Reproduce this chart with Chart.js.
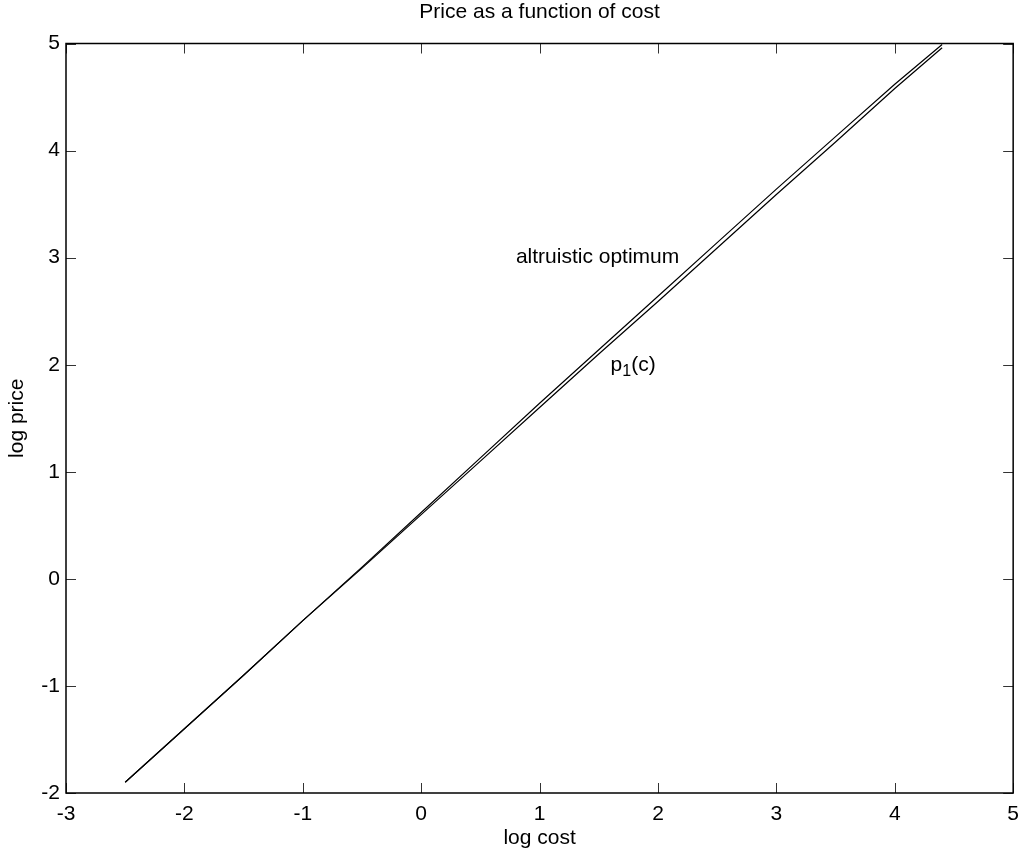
<!DOCTYPE html>
<html>
<head>
<meta charset="utf-8">
<title>Price as a function of cost</title>
<script src="https://cdn.jsdelivr.net/npm/chart.js@4"></script>
<style>
  body { margin: 0; background: #fff; }
  canvas { display: block; }
</style>
</head>
<body>
<canvas id="chart" width="1028" height="857"></canvas>
<script>
const logCost = [-2.5, -2, -1.5, -1, -0.5, 0, 0.5, 1, 1.5, 2, 2.5, 3, 3.5, 4, 4.4];
const altruisticOptimum = [-1.90, -1.40, -0.90, -0.39, 0.11, 0.62, 1.13, 1.64, 2.14, 2.64, 3.14, 3.64, 4.13, 4.62, 4.99];
const p1 = [-1.90, -1.40, -0.90, -0.39, 0.10, 0.60, 1.10, 1.60, 2.10, 2.59, 3.09, 3.59, 4.08, 4.58, 4.96];

const xTicks = [-3, -2, -1, 0, 1, 2, 3, 4, 5];
const yTicks = [-2, -1, 0, 1, 2, 3, 4, 5];

const chartTitle = 'Price as a function of cost';

// text annotations, anchored in data coordinates (left / middle)
const noteText = ['altruistic optimum', 'p'];
const noteSub = ['', '1'];
const noteTail = ['', '(c)'];
const noteX = [0.8, 1.6];
const noteY = [3.0, 2.0];

const FONT = '"Liberation Sans", Arial, Helvetica, sans-serif';
const FS = 21;

function toPoints(ys) {
  return logCost.map((x, i) => ({ x: x, y: ys[i] }));
}

// box round the plot, ticks pointing inward on all four sides, title and text labels
const matlabAxes = {
  id: 'matlabAxes',
  afterDraw(chart) {
    const ctx = chart.ctx;
    const a = chart.chartArea;
    const xs = chart.scales.x;
    const ys = chart.scales.y;
    const tl = 10;

    ctx.save();
    ctx.strokeStyle = '#333';
    ctx.lineWidth = 1;
    ctx.beginPath();
    xTicks.forEach(v => {
      const px = Math.round(xs.getPixelForValue(v)) + 0.5;
      ctx.moveTo(px, a.bottom); ctx.lineTo(px, a.bottom - tl);
      ctx.moveTo(px, a.top); ctx.lineTo(px, a.top + tl);
    });
    yTicks.forEach(v => {
      const py = Math.round(ys.getPixelForValue(v)) + 0.5;
      ctx.moveTo(a.left, py); ctx.lineTo(a.left + tl, py);
      ctx.moveTo(a.right, py); ctx.lineTo(a.right - tl, py);
    });
    ctx.stroke();

    ctx.strokeStyle = '#000';
    ctx.lineWidth = 1.5;
    ctx.strokeRect(a.left, a.top, a.right - a.left, a.bottom - a.top);

    ctx.fillStyle = '#000';
    ctx.textBaseline = 'middle';
    ctx.textAlign = 'center';
    ctx.font = FS + 'px ' + FONT;
    ctx.fillText(chartTitle, (a.left + a.right) / 2, 12);

    ctx.textAlign = 'left';
    for (let i = 0; i < noteText.length; i++) {
      let px = xs.getPixelForValue(noteX[i]);
      const py = ys.getPixelForValue(noteY[i]);
      ctx.font = FS + 'px ' + FONT;
      ctx.fillText(noteText[i], px, py);
      px += ctx.measureText(noteText[i]).width;
      if (noteSub[i]) {
        ctx.font = Math.round(FS * 0.75) + 'px ' + FONT;
        ctx.fillText(noteSub[i], px, py + 7);
        px += ctx.measureText(noteSub[i]).width;
      }
      if (noteTail[i]) {
        ctx.font = FS + 'px ' + FONT;
        ctx.fillText(noteTail[i], px, py);
      }
    }
    ctx.restore();
  }
};

new Chart(document.getElementById('chart'), {
  type: 'line',
  data: {
    datasets: [
      {
        label: 'altruistic optimum',
        data: toPoints(altruisticOptimum),
        borderColor: '#000',
        borderWidth: 1.2,
        pointRadius: 0,
        tension: 0,
        fill: false
      },
      {
        label: 'p1(c)',
        data: toPoints(p1),
        borderColor: '#000',
        borderWidth: 1.2,
        pointRadius: 0,
        tension: 0,
        fill: false
      }
    ]
  },
  options: {
    responsive: false,
    animation: false,
    devicePixelRatio: 1,
    layout: { padding: { left: 0, right: 11, top: 43.5, bottom: 0 } },
    plugins: {
      legend: { display: false },
      tooltip: { enabled: false },
      title: { display: false }
    },
    scales: {
      x: {
        type: 'linear',
        min: -3,
        max: 5,
        afterBuildTicks: s => { s.ticks = xTicks.map(v => ({ value: v })); },
        afterFit: s => { s.height = 64; },
        grid: { display: false, drawTicks: false },
        border: { display: false },
        ticks: {
          color: '#000',
          padding: 9,
          maxRotation: 0,
          autoSkip: false,
          font: { family: FONT, size: FS }
        },
        title: {
          display: true,
          text: 'log cost',
          color: '#000',
          font: { family: FONT, size: FS },
          padding: { top: 0, bottom: 6 }
        }
      },
      y: {
        type: 'linear',
        min: -2,
        max: 5,
        afterBuildTicks: s => { s.ticks = yTicks.map(v => ({ value: v })); },
        afterFit: s => { s.width = 66; },
        grid: { display: false, drawTicks: false },
        border: { display: false },
        ticks: {
          color: '#000',
          padding: 6,
          autoSkip: false,
          font: { family: FONT, size: FS }
        },
        title: {
          display: true,
          text: 'log price',
          color: '#000',
          font: { family: FONT, size: FS },
          padding: { top: 5, bottom: 0 }
        }
      }
    }
  },
  plugins: [matlabAxes]
});
</script>
</body>
</html>
